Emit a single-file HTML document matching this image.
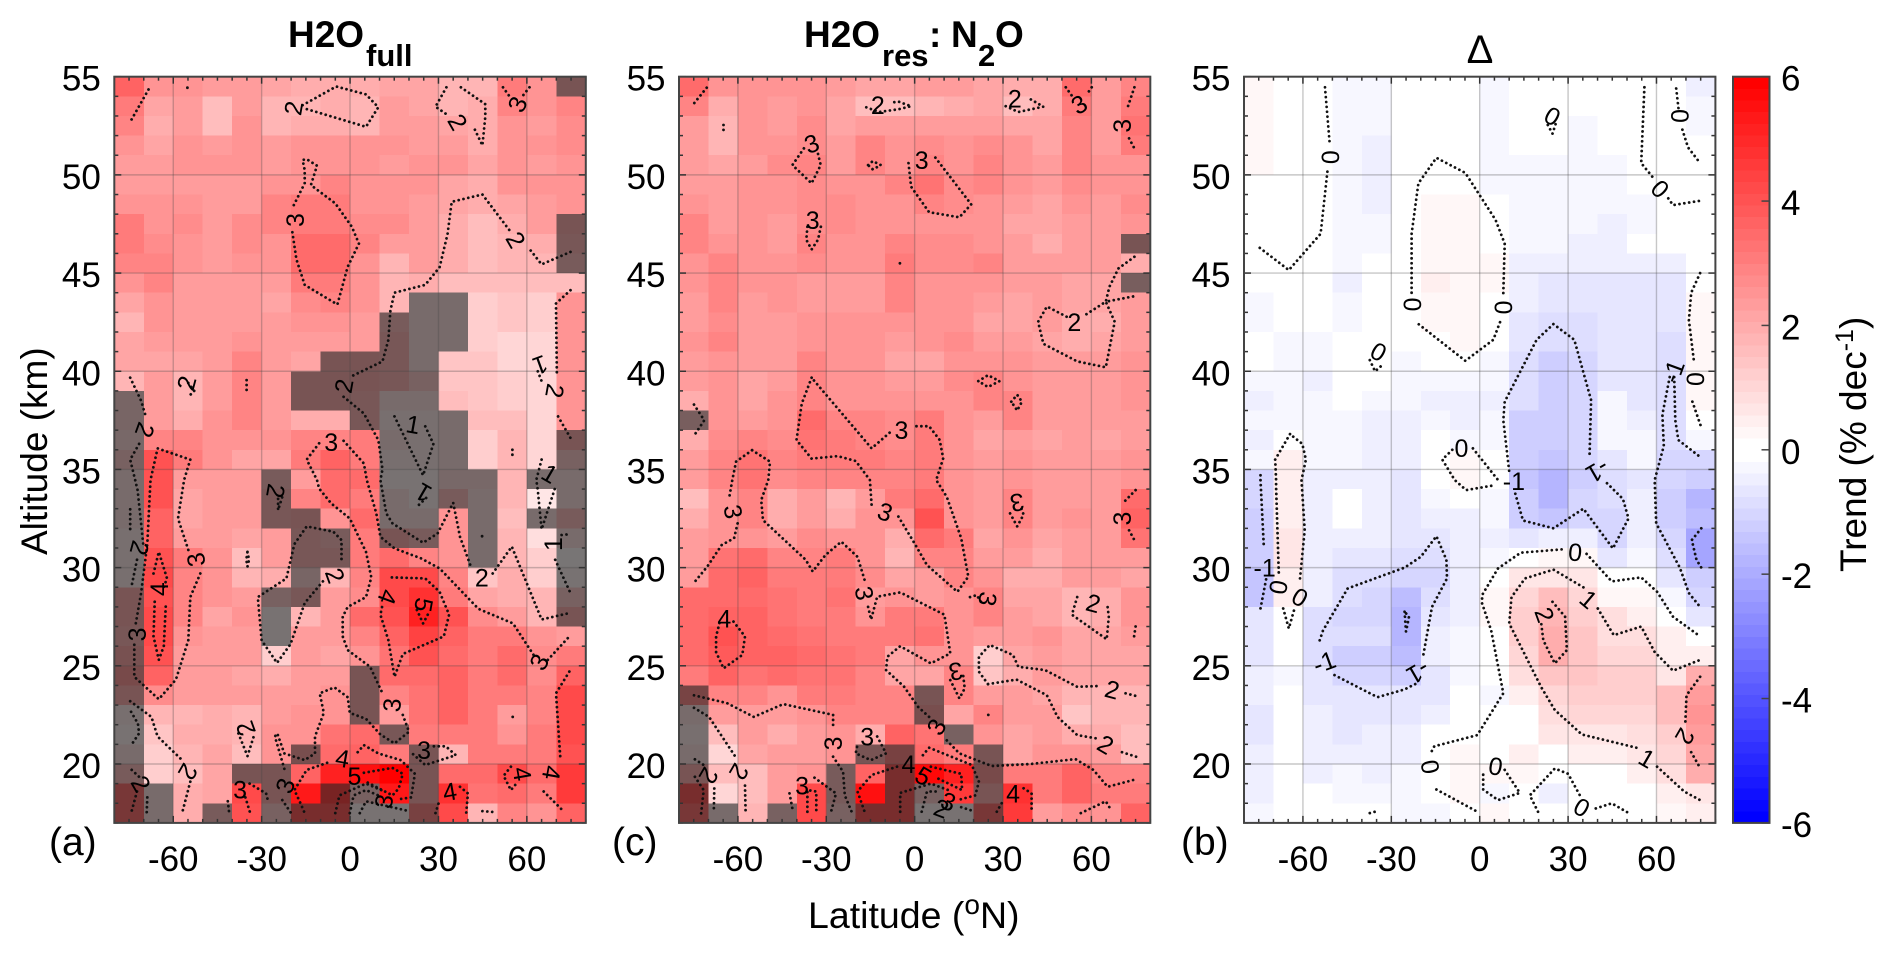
<!DOCTYPE html>
<html lang="en">
<head>
<meta charset="utf-8">
<title>H2O trend latitude-altitude panels</title>
<style>
html,body{margin:0;padding:0;background:#fff;}
svg{display:block;font-family:"Liberation Sans",sans-serif;}
text{fill:#000;}
</style>
</head>
<body>
<svg id="chart" width="1892" height="957" viewBox="0 0 1892 957" xmlns="http://www.w3.org/2000/svg">
<rect x="0" y="0" width="1892" height="957" fill="#fff"/>
<g id="panels"></g>
<g id="colorbar"></g>
<g font-weight="bold">
<text x="288" y="47" font-size="37">H2O</text>
<text x="366" y="66" font-size="31">full</text>
</g>
<g font-weight="bold">
<text x="804" y="47" font-size="37">H2O</text>
<text x="882" y="66" font-size="31">res</text>
<text x="929" y="47" font-size="37">:</text>
<text x="951" y="47" font-size="37">N</text>
<text x="978" y="66" font-size="31">2</text>
<text x="995" y="47" font-size="37">O</text>
</g>
<text x="1480" y="63" font-size="40" text-anchor="middle">Δ</text>
<text x="49" y="855" font-size="39">(a)</text>
<text x="612" y="855" font-size="39">(c)</text>
<text x="1181" y="855" font-size="39">(b)</text>
<text transform="translate(47,555) rotate(-90)" font-size="37">Altitude (km)</text>
<text x="808" y="928" font-size="37.5">Latitude (<tspan font-size="28" dy="-14">o</tspan><tspan dy="14">N)</tspan></text>
<text transform="translate(1866,572) rotate(-90)" font-size="37">Trend (% dec<tspan font-size="25" dy="-13">-1</tspan><tspan dy="13">)</tspan></text>
</svg>
<script>
// Tick labels
const latTicks = [-60, -30, 0, 30, 60];
const altTicks = [20, 25, 30, 35, 40, 45, 50, 55];
const colorbarTicks = [-6, -4, -2, 0, 2, 4, 6];
// Row altitudes run from the 54-55 km row (first) to the 17-18 km row (last); columns are 10 degree bands from -80.
const heatA = [
[4.0,2.9,3.0,2.7,2.6,2.4,2.2,2.2,2.2,2.5,2.5,2.1,2.1,3.4,2.9,3.0],
[3.4,2.4,2.8,1.9,2.7,2.0,2.1,2.2,2.1,2.6,2.5,2.1,2.2,3.3,2.9,3.2],
[3.3,2.3,2.7,1.9,2.9,2.0,2.3,2.2,2.0,2.6,2.7,2.5,2.2,3.0,2.8,3.1],
[2.9,2.4,2.9,2.7,3.0,2.6,2.9,2.9,2.9,2.9,2.8,2.8,2.2,3.0,2.9,3.1],
[2.8,2.6,2.9,2.9,2.9,2.8,3.0,3.0,3.0,2.8,3.0,2.9,2.4,3.0,2.8,3.0],
[2.8,2.6,2.8,2.8,2.8,2.9,3.0,3.2,3.0,3.0,3.0,2.4,2.2,3.0,2.9,3.0],
[3.0,2.9,3.0,2.6,2.8,3.2,3.4,3.4,3.0,3.0,2.8,2.4,2.2,2.5,2.8,3.0],
[3.4,3.0,3.1,2.6,3.1,3.2,3.4,3.4,3.1,3.1,2.7,2.3,1.9,2.3,2.7,3.0],
[3.4,3.1,3.0,2.6,3.1,3.0,3.7,3.7,3.3,2.8,2.8,2.3,1.9,2.0,2.2,2.8],
[3.2,3.3,3.0,2.8,3.0,2.9,3.8,3.8,3.0,2.0,2.7,2.2,1.9,2.0,2.1,2.5],
[3.0,3.3,2.8,2.8,2.7,2.6,3.4,3.5,3.0,2.0,2.3,1.8,1.8,1.8,1.8,1.9],
[2.4,3.0,2.6,2.6,2.6,2.5,3.1,3.2,3.0,2.1,1.5,1.4,1.3,1.6,1.5,3.0],
[2.1,3.0,2.6,2.7,2.7,2.6,2.9,2.9,2.7,2.5,1.5,1.4,1.3,1.6,1.5,2.9],
[2.5,2.8,2.6,2.7,2.9,2.7,2.7,2.7,2.6,2.7,1.5,1.5,1.4,1.1,1.2,2.9],
[2.5,2.5,2.4,2.6,3.2,2.6,2.4,3.0,3.0,2.7,1.5,1.7,1.6,1.1,1.2,3.0],
[2.0,2.6,2.0,2.7,3.3,2.7,3.0,3.0,3.0,2.7,2.0,1.7,1.7,1.3,1.1,3.0],
[1.8,2.6,2.0,2.6,3.3,2.7,3.0,3.0,2.7,1.3,1.5,1.8,1.6,1.5,1.1,3.0],
[1.8,2.7,2.2,2.9,3.2,2.8,2.2,2.2,2.7,1.2,1.2,1.5,1.8,1.8,1.1,3.0],
[1.6,3.3,3.2,2.9,3.0,2.9,3.2,3.3,3.4,1.3,1.1,1.5,1.3,2.0,1.1,3.0],
[2.0,4.2,3.4,3.0,2.5,2.4,3.5,4.0,3.5,1.2,1.1,1.5,1.3,2.1,1.1,2.0],
[1.5,4.2,2.7,2.6,2.6,2.5,2.7,3.7,3.7,1.0,1.0,1.7,1.6,2.0,1.5,1.5],
[1.3,4.3,2.4,2.6,2.6,2.7,3.2,3.7,3.5,1.3,1.0,2.4,1.5,2.0,0.7,1.5],
[1.3,4.0,2.4,2.6,2.6,2.6,3.0,3.0,3.7,1.3,1.3,3.0,1.5,1.9,1.5,2.5],
[1.2,4.0,2.7,2.6,2.4,2.7,2.6,2.5,3.4,3.0,2.5,3.0,1.5,2.0,0.9,1.5],
[1.2,4.2,3.5,2.9,1.9,2.6,2.6,2.6,3.4,3.8,3.3,2.9,1.3,2.0,1.3,0.8],
[1.2,4.5,3.3,2.9,2.0,2.2,1.8,2.1,3.2,4.5,4.4,3.3,1.6,2.2,1.5,1.0],
[3.0,4.3,3.2,3.0,2.7,2.0,2.8,2.6,3.1,4.5,5.0,3.5,2.5,2.3,2.0,2.0],
[3.0,4.5,3.3,2.4,2.9,1.0,2.1,2.6,3.7,4.3,5.2,4.3,3.1,2.7,2.0,3.0],
[2.8,4.5,2.9,2.6,2.8,1.0,2.6,2.7,3.3,4.0,4.6,4.0,3.4,3.4,2.9,2.6],
[3.1,4.3,2.6,2.6,2.6,1.5,2.6,2.4,3.0,3.6,4.3,3.7,3.4,3.7,3.1,3.4],
[3.5,4.0,2.8,2.7,2.5,2.2,2.7,2.7,3.0,3.8,3.8,3.9,3.5,3.7,3.1,4.0],
[3.0,3.1,2.6,2.7,2.6,2.6,2.7,2.9,3.0,3.3,3.6,3.9,3.5,3.4,3.2,4.4],
[1.2,2.1,2.1,2.2,2.0,2.6,3.0,3.0,3.0,2.6,3.6,3.9,3.5,2.8,3.3,4.4],
[1.0,1.7,2.2,2.2,2.0,3.0,3.0,3.6,3.8,2.8,3.4,3.5,3.5,2.9,3.4,4.4],
[1.5,1.3,2.1,2.5,1.9,3.0,3.2,3.7,4.0,3.4,3.0,2.1,3.4,3.4,3.4,4.3],
[2.5,1.3,1.8,2.4,3.0,3.0,4.0,5.2,5.6,6.0,3.0,3.7,3.8,4.4,3.8,4.7],
[4.5,1.3,2.2,2.4,4.5,3.0,5.4,5.5,2.0,5.4,3.0,5.0,3.6,3.7,3.4,4.7],
[4.5,1.3,2.2,2.5,4.2,2.0,5.0,5.0,1.0,1.0,4.0,4.5,2.1,3.2,3.0,4.0]
];
const maskA = [[15],[],[],[],[],[],[],[15],[15],[15],[],[10,11],[9,10,11],[9,10,11],[7,8,9,10],[6,7,8,9,10],[0,6,7,8,9,10],[0,8,9,10,11],[0,9,10,11,15],[0,9,10,11,15],[0,5,9,10,11,12,14,15],[0,5,9,10,11,12,15],[0,5,6,9,10,12,14,15],[0,6,7,9,10,12,15],[0,6,7,12,15],[0,6,15],[0,5,6,15],[0,5,15],[0,5],[0],[0,8],[0,8],[0,8],[0,9],[0,6,10],[0,4,5,10],[0,1,5,7,8,10],[0,1,3,5,6,7,8,9,10]];
const heatC = [
[3.8,2.9,3.0,2.9,2.9,2.6,2.4,2.4,2.6,2.6,2.5,2.2,2.2,3.7,2.8,3.3],
[3.2,2.2,2.9,2.6,2.9,2.4,1.9,1.9,2.0,2.3,2.4,1.9,2.2,3.5,2.8,3.4],
[2.8,2.0,2.9,2.6,3.1,2.5,2.6,2.6,2.7,2.7,2.7,2.5,2.4,3.3,2.8,3.6],
[2.7,2.0,2.9,3.0,3.1,2.6,3.2,3.0,3.1,2.9,3.1,2.9,2.4,3.3,2.8,3.5],
[2.7,2.4,2.8,3.1,3.2,2.8,3.2,3.0,3.3,3.0,3.2,3.0,2.6,3.2,2.9,2.9],
[2.7,2.6,2.9,2.9,3.1,3.0,3.0,3.2,3.6,3.1,3.3,2.9,2.6,3.1,2.9,2.9],
[3.0,2.8,2.9,3.0,3.1,3.1,3.0,3.0,3.2,3.1,2.9,2.6,2.4,2.9,2.7,3.1],
[3.3,2.8,2.9,2.7,3.1,3.1,3.0,3.0,3.0,3.0,3.0,2.5,2.4,2.8,2.8,2.9],
[3.3,3.0,3.0,2.7,3.3,2.9,2.9,3.2,3.1,3.1,3.0,2.7,2.2,2.6,2.7,3.0],
[2.9,3.2,2.9,2.9,3.1,2.9,2.9,3.5,3.1,3.1,3.2,2.8,2.6,2.7,2.6,2.2],
[2.9,3.3,2.9,3.0,2.8,2.7,2.7,3.2,2.9,2.9,3.0,2.8,2.6,2.5,2.5,2.2],
[2.7,3.2,2.6,2.9,2.7,2.6,2.7,3.2,2.9,2.9,2.6,2.5,2.6,2.4,2.4,2.6],
[2.7,3.1,2.6,2.8,2.9,2.9,2.9,2.9,2.9,2.9,2.5,2.5,2.6,2.3,2.3,2.7],
[2.9,3.2,2.8,2.8,3.0,2.9,2.9,2.8,2.9,3.1,2.8,2.7,2.4,2.2,2.4,2.8],
[2.8,3.0,2.8,2.8,3.3,3.0,2.9,2.5,2.5,3.0,2.9,2.9,2.7,2.6,2.6,2.9],
[2.6,2.9,2.4,2.8,3.3,3.0,2.9,2.7,2.8,3.1,3.2,2.9,2.7,2.7,2.6,3.0],
[2.3,2.9,2.5,2.9,3.3,3.0,2.9,2.9,3.0,3.0,3.3,3.2,2.7,2.7,2.7,2.9],
[2.3,3.0,2.6,3.0,3.7,3.2,3.2,3.1,3.4,3.0,2.8,3.2,2.7,2.7,2.6,2.7],
[2.3,3.1,3.2,3.1,3.6,3.5,3.3,3.1,3.4,3.0,2.5,2.8,2.4,2.6,2.5,2.8],
[2.8,3.2,3.6,3.2,3.5,3.4,3.4,3.3,3.4,3.0,2.8,2.9,2.6,2.6,2.7,3.0],
[2.8,3.2,3.6,3.1,3.2,3.2,3.2,3.3,3.4,2.9,2.8,2.9,2.6,2.7,2.7,2.9],
[1.8,3.0,3.2,2.3,2.6,2.0,2.7,3.4,3.8,3.0,2.8,3.3,2.6,2.7,2.6,3.8],
[2.2,3.0,3.2,2.2,2.8,2.3,3.0,2.9,4.2,3.0,2.7,3.3,2.8,2.9,2.8,4.0],
[2.7,3.0,3.0,2.7,3.1,2.9,3.0,2.2,3.8,3.5,2.4,3.0,2.4,2.8,2.6,3.6],
[2.7,3.6,3.7,3.3,3.3,3.4,3.0,2.0,3.3,3.3,2.7,2.7,2.3,2.7,2.7,2.6],
[2.8,3.7,4.0,3.5,3.4,3.4,3.1,2.4,2.7,3.2,3.0,2.2,2.2,2.7,2.6,2.4],
[3.8,3.8,3.8,3.6,3.5,3.6,2.8,3.0,2.7,3.0,3.2,2.5,2.4,2.1,2.2,3.0],
[3.7,4.0,4.0,3.6,3.4,3.4,2.9,3.5,3.5,3.0,3.2,2.6,2.4,2.0,2.3,3.0],
[3.7,4.3,4.0,3.7,3.6,3.5,3.4,3.5,3.6,3.0,2.7,2.7,2.9,2.5,2.4,2.8],
[3.7,4.1,3.9,4.0,3.7,3.6,3.4,2.5,3.0,3.0,1.5,2.4,2.7,2.4,2.4,2.5],
[3.5,3.9,3.6,3.8,3.6,3.6,3.3,2.5,2.4,3.2,1.6,2.2,2.6,2.4,2.4,2.4],
[3.8,3.2,3.2,3.0,3.4,3.4,3.3,3.3,3.0,3.2,2.8,2.6,2.4,2.0,2.1,2.0],
[1.3,2.7,2.8,2.8,3.0,3.3,3.3,3.3,3.3,2.5,3.2,2.7,2.6,1.7,2.0,2.0],
[1.2,1.8,2.6,2.3,2.8,3.0,2.2,3.9,3.6,2.0,3.0,2.5,2.7,2.2,2.3,1.9],
[1.5,1.2,2.5,2.6,2.7,3.0,3.0,4.0,3.8,3.5,3.0,2.4,3.0,3.0,2.7,1.9],
[3.0,1.8,1.8,2.6,3.0,2.5,3.9,5.0,5.8,5.2,3.5,3.5,3.4,4.0,3.3,3.3],
[5.0,1.2,1.9,2.7,4.5,2.5,5.6,5.0,2.0,4.8,3.0,5.0,3.5,3.9,3.5,3.5],
[4.5,1.3,2.0,2.0,4.5,2.0,5.0,5.0,1.0,1.0,4.5,4.7,2.8,3.1,3.0,4.0]
];
const maskC = [[],[],[],[],[],[],[],[],[15],[],[15],[],[],[],[],[],[],[0],[],[],[],[],[],[],[],[],[],[],[],[],[],[0,8],[0,8],[0,9],[0,6,7,10],[0,5,7,10],[0,5,7,8,10],[0,1,3,5,6,7,8,9,10]];
const heatB = [
[0.2,0,0,-0.2,-0.2,0,0,0,-0.2,0,0,0,0,0,0,-0.4],
[0.3,0,0,-0.2,-0.2,0,0,0,-0.2,0,0,0,0,0,0,-0.2],
[0.3,0,0,-0.2,-0.2,0,0,0,-0.2,0,0,-0.2,0,0,0,-0.2],
[0.2,0,0,-0.2,-0.4,0,0,0,-0.2,0,0,-0.2,0,0,0,0],
[0.2,0,0,-0.2,-0.4,0,0,0,-0.2,-0.2,-0.2,-0.2,-0.2,0,0,0],
[0,0,0,-0.2,-0.4,0,0,0,-0.2,-0.2,-0.2,-0.2,-0.2,0,0,0],
[0,0,0,-0.2,-0.4,0,0.2,0.2,0,-0.2,-0.2,-0.2,-0.2,-0.2,0,0],
[0,0,0,-0.2,-0.2,0,0.3,0.2,0,-0.2,-0.2,-0.2,-0.4,-0.2,0,0],
[0,0,0,-0.2,-0.2,0,0.3,0.2,0,-0.2,-0.2,-0.4,-0.4,0,0,0],
[0,0,0,-0.2,0,0,0.3,0.2,0.2,-0.4,-0.4,-0.4,-0.4,-0.4,-0.4,0],
[0,0,0,-0.4,0,0,0.4,0.2,0.2,-0.4,-0.6,-0.6,-0.6,-0.6,-0.6,0],
[-0.2,0,0,-0.2,0,0,0.3,0.2,0,-0.4,-0.6,-0.7,-0.6,-0.6,-0.6,0.2],
[-0.2,0,0,-0.2,0,0,0.2,0.3,0,-0.7,-0.9,-0.9,-0.6,-0.7,-0.7,0.3],
[0,-0.2,-0.2,0,0,0,0,0.2,0,-0.7,-0.9,-0.9,-0.6,-0.7,-0.8,0.2],
[0,-0.2,-0.2,0,0,-0.2,0,0,-0.2,-0.8,-1.2,-1.0,-0.6,-0.7,-0.9,0.2],
[-0.2,-0.2,-0.4,0,0,-0.2,-0.2,-0.2,-0.2,-0.8,-1.3,-1.0,-0.6,-0.7,-0.9,0.3],
[-0.4,-0.2,-0.2,0,-0.2,-0.2,-0.4,-0.4,-0.4,-0.9,-1.2,-1.0,-0.2,-0.6,-0.9,0.3],
[-0.2,-0.2,-0.2,-0.2,-0.4,-0.4,-0.2,-0.4,-0.2,-1.3,-1.2,-1.0,-0.2,-0.4,-0.9,0],
[-0.4,0.1,-0.2,-0.2,-0.4,-0.4,0,-0.2,-0.2,-1.3,-1.3,-1.1,-0.2,-0.2,-0.9,-0.2],
[-0.2,0.4,-0.2,-0.2,-0.4,-0.4,0,0.2,0,-1.3,-1.4,-1.1,-0.6,-0.2,-1.0,-1.1],
[-1.1,0.4,-0.4,-0.4,-0.4,-0.6,0,0.2,0,-1.4,-1.7,-1.2,-0.9,-0.6,-1.1,-1.2],
[-1.1,0.4,-0.4,0,-0.4,-0.6,-0.2,0,-0.2,-1.2,-1.8,-1.1,-0.9,-0.4,-1.2,-1.7],
[-1.2,0.4,-0.4,-0.1,-0.4,-0.6,-0.4,-0.4,-0.2,-1.2,-1.4,-1.1,-1.0,-0.4,-1.2,-1.6],
[-1.2,0.6,-0.4,-0.4,-0.4,-0.6,-0.6,-0.4,-0.4,-0.6,-0.4,-0.4,-1.0,-0.4,-1.1,-2.1],
[-1.2,0.6,-0.4,-0.6,-0.7,-0.8,-0.9,-0.4,-0.2,0,0.2,0.2,-0.6,-0.2,-0.9,-2.1],
[-1.4,0.4,-0.4,-0.9,-0.9,-1.0,-1.0,-0.4,0,0.6,0.7,0.7,0,0,-0.6,-1.2],
[-1.4,0.4,-0.4,-0.9,-1.1,-1.6,-0.9,-0.4,0.2,1.1,1.6,1.1,0.2,0.2,-0.2,-1.1],
[-0.6,0,-0.8,-1.1,-1.1,-1.8,-0.6,-0.4,0.3,1.2,1.8,1.3,0.8,0.5,0,-0.6],
[-0.6,0,-0.8,-0.9,-0.9,-1.7,-0.4,-0.2,0,1.2,1.9,1.4,0.9,0.9,0.5,0],
[-0.6,0,-0.8,-1.2,-1.2,-1.5,-0.4,-0.2,0,1.1,1.9,1.4,1.1,1.0,0.5,0.4],
[-0.4,-0.2,-0.7,-1.1,-1.1,-1.3,-0.6,-0.2,0,0.8,1.4,1.4,1.2,1.2,0.7,1.9],
[-0.4,0,-0.6,-0.7,-0.7,-0.6,-0.6,0,-0.2,0.4,1.1,1.2,1.2,1.3,1.5,2.3],
[-0.7,0,-0.4,-0.6,-0.6,-0.6,-0.4,0,0,0,0.8,1.0,1.1,1.1,1.5,2.5],
[-0.7,0,-0.4,-0.6,-0.4,-0.4,0,0,0,0,0.6,0.7,0.7,0.9,1.3,2.4],
[-0.4,0,-0.4,-0.4,-0.4,-0.4,0,0.2,0,0.4,0,0.4,0.4,0.6,1.0,2.1],
[-0.4,0,-0.4,-0.2,-0.4,-0.2,0,0.3,0.2,0.3,0,0,0,0.4,0.8,2.0],
[-0.4,0,0,-0.2,-0.2,-0.2,0,0.2,-0.2,0,-0.4,0,0,0,0.4,0.7],
[-0.3,0,0,0,0,-0.2,-0.2,0,0.3,0,0,0,0,0,0.3,0.4]
];
const maskB = [];
// Contours: flat lists of latitude, altitude pairs.
const contoursA = [
[-68.4,54.35,-74.6,52.7],[-55.2,54.44,-54.4,54.44],
[-16.1,53.55,-4.7,54.5,5.4,54.1,9.6,53.44,5.4,52.45,-14.7,53.35],
[32.7,54.46,29,53.47,33.1,53.05],[37.6,54.46,45.9,53.6,45.9,52.96,44.9,51.5,41.9,52.45],
[51.9,54.46,54.6,53.9],[60.9,54.46,58.5,54],
[-19.1,48.46,-15.4,49.57,-15.4,50.25,-16.1,50.76,-14.7,50.8,-11.2,50.47,-13.3,49.48,-5,48.55,0.6,47.36,3,46.5,-0.8,45.32,-4.3,43.4,-15.4,44.4,-18.2,45.7,-19.6,47.1],
[74.8,46.08,65,45.44,60.5,46.3],
[54,47.2,44.9,49,34.5,48.63,33.1,47,30.4,45.3,25.5,44.4,15.1,44,13.7,43.1,13,41.6,11,40.5,-0.1,39.7],
[-2.2,38.7,4.7,37.85,9.6,36.5,11,35,10.3,34.46,12.3,32.76,14.4,32.25,24.8,31.27,29.7,31.74,35,33.3,37.3,31.57,40.8,30.13],
[48.4,29.7,54.9,31.07,65,27.36,74.8,27.7],
[74.8,44.13,69.9,43.45,70.2,39.7],[70.6,37.7,74.8,36.6],[63.7,40,65,39.5],
[-74.6,39.67,-70.9,38.5,-69.5,37.8],[-71.6,36.3,-74.6,35.5,-72.1,33.95,-70.9,32.25,-70.2,31.2],
[-72.3,30.4,-74.3,28.94],[-74.6,32.97,-74.6,31.74],
[-54.9,30.9,-58.4,32.5,-56.3,34.46,-54.2,35.5,-65.3,36.07,-67.7,34.46,-68.8,31.2,-70.9,28.7,-72.7,27.16],
[-50.8,29.7,-54.2,28.5,-54.9,26.3,-59.1,24.3,-64.9,23.3,-73.2,24.44,-73.2,26.14],
[-66.7,29.7,-64.9,30.8,-62.1,29.45,-63.5,28.9],[-66.3,28.26,-66.7,26.5,-64.9,25.3,-63.2,26,-62.5,28.2],
[-74.6,23.2,-67.4,22.4,-65.3,21.4,-57,20.2],[-54.2,19.1,-57,17.5],
[-74.3,22.66,-72,22.06,-71.6,21.56,-74.1,21],[-74.1,19.7,-71.6,19.35],[-72.3,18.6,-74.3,17.5],[-68.8,18.3,-69,17.5],
[-37.9,21.56,-34.8,20.4,-32.7,21.4],[-41.5,18.1,-41,17.5],[-35.5,18.3,-33.9,17.5],[-34.1,19,-28.5,18.5,-27.9,18.16],[-23,18.16,-20,17.5],
[-10.5,36.33,-14.7,35.5,-11.2,34.46,-10.5,34.03,-6.4,33.27,-0.1,32.5,5.4,30.8,7.2,29.5,5.4,28.5,-0.8,28,-2.5,27.5,-2.5,26.5,-0.8,25.8,6.8,24.95,11,23.6],
[17.9,22.5,20,21.64,15.1,21.05,10.3,21.5,5.4,22.3,-0.1,22.6,-0.8,23.4,-5.3,23.9,-10.3,23.6,-8.9,22.6,-11.9,21.4,-11.9,20.54,-15.4,20.2,-22.3,20.54,-24.7,21.56,-25.5,21.4,-22,19.6],
[-2.2,36.46,4.7,35.3,5.7,34.46,8.9,32.76,10.3,31.57,15.1,30.98,24.1,30.47,30.4,29.96,43.6,27.9,55.3,27.16,62.3,25.55],
[67.1,25.3,74.8,26.56],
[-9.2,29.3,-15.4,28.2,-20.2,26.1,-24.8,25.15,-30,26.3,-31.3,28.5,-21.6,29.45,-18.9,31.2,-14.7,32.1,-5.7,31.83,-2.9,31.4,-2.9,30.3],
[-24.4,33.5,-24.4,32.93,-23,33.6],[-34.8,30.8,-34.3,30.4,-34.8,30.05,-35.2,30.4,-34.8,30.8],
[14.2,29.5,25.5,29.45,30.4,28.77,33.6,27.6,31.8,26.5,17.9,25.6,15.1,24.44,13,26.3,10.3,27.6,11,28.1],
[22.7,27.84,24.8,27.16,26.9,27.75],
[-7.8,20.06,-14.7,19.7,-18.9,18.67,-16.8,18,-15.4,17.5],
[2.6,20.6,4.7,20.96,9.6,20.54,17.2,20.2,22,19.5,20.7,18.3,16.5,18.2],
[4.7,19.55,14.4,19.8,17.9,19.5,16.5,18.75,14.4,18.4,5.4,19.1],
[-5,17.5,-3.6,18.4,5.4,19,11.7,18.6],[-0.1,17.5,1.2,18.4,5.4,18.67,9.6,18.4],[3.3,17.5,5.4,18.1,20,17.6],
[21.4,20.5,25.5,19.95,35.9,20.45,32.5,20.9,28.3,20.9],
[29,17.5,30.4,18.16],[37.3,18.84,40,18.5,39.4,17.5],[44.9,17.6,49,17.55],
[54.6,19.86,52.1,19.4,54.6,18.67,57,19.1],[65.7,18.6,72.4,17.6],[71.3,20.4,69.9,23.6,74.8,24.8],
[65,35.5,63.2,34.46,63.7,33.95,65,31.95,69.9,34.2],[71.8,31.66,74.6,31.7],[69.6,30.4,74.8,28.7],
[15.1,37.7,24.8,34.7,28.3,36.3,25.5,37.2],[23.4,33.2,26.2,33.6],[55.1,36,55.1,35.5],[-35.1,39.55,-35.1,38.8],
[-54.9,39.4,-52.9,39,-54.9,38.7],[55.2,22.4,55.3,22.4],[44.8,31.6,44.8,31.4]
];
const labelsA = [
[-19.3,53.4,'2',-80],[36.6,52.7,'2',60],[56.7,53.6,'3',-65],[-18.6,47.7,'3',-90],[56.3,46.7,'2',60],[-2.2,39.25,'2',-80],[-55.6,39.4,'2',-75],[64.6,40.3,'1',160],[69.6,39,'2',100],[-69.5,37,'2',110],[21.4,37.3,'1',10],[-6.4,36.4,'3',0],
[-25.1,33.9,'2',100],[24.8,33.8,'1',-150],[-71.3,31,'2',105],[-52.4,30.4,'3',-100],[-64.9,28.9,'4',-90],[-72.3,26.6,'3',-90],[12.8,28.5,'4',110],[25.1,28.1,'5',100],[-5,29.6,'2',70],[44.7,29.5,'2',0],[68.8,31.2,'1',-90],[67.8,34.8,'1',30],[14.1,23,'3',-85],[64.1,25.2,'3',-60],[-35.5,21.8,'2',-110],[25.1,20.7,'3',0],[-2.5,20.3,'4',10],[1.5,19.4,'5',0],[-54.9,19.6,'2',120],[-70.9,19,'2',60],[-37.3,18.7,'3',0],[-22.1,18.9,'3',-70],[11.4,18.1,'3',-80],[33.8,18.6,'4',-10],[58.5,19.5,'4',80],[68.5,19.55,'4',100]
];
const contoursC = [
[-70.6,54.44,-74.9,53.64],[-64.9,52.54,-64.9,52.2],
[-16.4,53.44,-12.1,53.2,-5.5,53.34,-1.2,53.5,-5.5,53.73,-7.9,53.68],
[30.9,53.5,35.2,53.2,43.7,53.47,38.2,53.95],[51.3,54.46,54,53.9],[60.1,54.46,58.3,54.07],
[74.6,54.46,72,53.3],[72.8,51.86,74.6,51.35],
[-37.6,51.35,-41.5,50.5,-35,49.57,-31.9,50.5,-33.1,51.26],
[-15.8,50.5,-14.2,50.7,-11.5,50.5,-14.2,50.28,-15.8,50.5],
[-2.1,50.6,-1.2,49.4,4.9,48.1,15.2,47.84,19.2,48.5,6.4,51],
[-36.4,47.36,-36.8,46.7,-35,46.2,-32.8,46.7,-31.6,47.53],[-5,45.5,-4.7,45.5],
[74.6,45.83,69.2,45.24,66.1,44.3,64.9,43.54,57,42.78],
[51.6,42.78,44.9,43.3,41.9,42.52,43.7,41.4,55.2,40.5,64.9,40.2,67.9,42.52,64.9,43.54,74.6,43.82],
[21.6,39.5,24.9,39.8,28.8,39.5,24.9,39.2,21.6,39.5],[32.8,38.45,34.8,38.8,36.4,38.45,34.8,38,32.8,38.45],
[-74.9,38.3,-71.4,37.5,-74.4,36.83],
[-35,39.67,-38.3,38.36,-40.1,36.5,-35,35.55,-26.1,35.68,-20,35.43,-15.2,34.46,-14.6,33.2],
[-5.5,32.6,0,31.23,4.2,30.13,14.5,28.77,18.2,29.54,15.8,31.5,10.9,33.6,7.3,34.46,9.7,35.56,8.5,36.5,4.9,37.2,0,37.2],
[-8.5,36.87,-14.6,36.07,-35,39.67],
[-55.2,35.98,-60.6,35.4,-61.9,34.46,-63.1,33.44],
[-60.1,32.25,-61.3,31.5,-65.5,31.15,-70.4,30.05,-74.9,29.23],
[-55.2,35.98,-49.1,35.4,-49.7,34.46,-52.1,33.44,-51.5,32.42,-37,30.4,-34.6,29.8,-30.3,30.64,-24.9,31.32,-19.4,30.55,-17,29.37],
[-15.8,28,-14.8,27.36,-12.7,28.52,-4.9,28.74,10.1,27.6,12.1,25.63,5.5,25.12,-4.9,26,-9.3,25.46,-9.7,24.78,-3.6,23.94,1.2,22.9,4.9,22.4],
[18.8,28.5,21.1,28.6,23.1,28.1],
[-61.5,27.25,-57.6,26.5,-58.5,25.55,-64.9,24.87,-67.4,25.7,-67.4,26.5,-66.2,27.2],
[55.2,28.5,53.4,27.6,65.2,26.35,65.9,27.5,65.5,28],[75,27,74.3,26.3],
[75,33.95,71.2,33.36],[72.8,31.9,74.6,31.4],[32.4,32.76,34.8,32.1,37,32.7,36,33.1],
[12.1,24.27,15.2,23.34,17,23.85,16.4,24.6],
[24.9,24.07,21.8,24.7,21.8,25.46,25.5,26.06,33.4,25.55,35.2,24.95,44.3,24.78,55.2,23.93,62.5,23.97],[71.6,23.6,75.2,23.46],
[24.9,24.07,34.6,24.3,44.9,23.5,48.5,22.4,55.2,21.47,61.9,21.3],[70.4,20.6,75.2,20.37],
[10.9,21.2,15.2,20.54,26.1,19.9,39.4,20,54.6,20.25,60.7,19.7,65.5,18.84,74.6,19.2],
[56.4,17.5,64.9,18.1,66.7,17.65],
[-74.9,23.5,-63.7,23.1,-54.6,22.4,-44.6,23.05,-27.7,22.5,-27.7,21.86],
[-74.9,22.86,-69.8,22.4,-60.7,20.33],[-57.6,18.9,-57.4,17.57],[-74.6,20.24,-71.6,19.95],
[-74.6,19.35,-71.6,18.67,-72.5,17.48],[-68,18.75,-68.2,17.57],
[-27.7,20.37,-24.3,19.6,-23.7,18.4,-21.2,17.5],[-34,19.3,-26.7,18.5,-28.5,17.5],[-42.5,18.5,-41.3,17.57],
[-36.4,17.57,-36.4,18.67,-33.4,18.6,-33.4,17.57],
[-12.7,21.4,-9.7,20.54,-14.9,20.2,-20,20.54,-19.4,21],
[-6,19.86,-14.6,19.44,-19.4,18.6,-17,17.57],
[2.8,20.45,4.9,20.83,19.4,19.95,21.8,19.1,20.6,18.4,14.6,18.16],
[5.5,19.86,15.8,19.5,16.1,18.67,6.7,19.35],
[-4.9,17.57,-4.9,18.53,5.5,19,12.7,18.6],[2.4,17.57,4.2,18.6,8.5,18.6],[15.8,17.8,20,17.6],
[27.9,17.57,30.3,18.2],[37,18.76,39.7,18.5,39.7,17.57],[25,22.5,25.4,22.5]
];
const labelsC = [
[-12.5,53.56,'2',0],[34,53.9,'2',0],[55.8,53.6,'3',-30],[70.4,52.5,'3',-90],[-35,51.6,'3',-20],[2.4,50.75,'3',0],[-34.6,47.7,'3',0],[54.2,42.5,'2',0],[-4.5,37,'3',0],
[-61.5,32.85,'3',80],[-10,32.85,'3',20],[34.8,33.3,'3',170],[70.4,32.5,'3',-90],[-17,28.7,'3',80],[24.9,28.4,'3',100],[-64.6,27.4,'4',0],[60.7,28.2,'2',15],[14,24.7,'3',170],[67.1,23.8,'2',15],[7.3,21.9,'3',-60],[-16.1,21.4,'3',0],[64.9,21,'2',30],[-27.7,21.05,'3',-90],[-2.1,20,'4',0],[3,19.4,'5',30],[-59.5,19.6,'2',120],[-69.8,19.4,'2',120],[-38.2,18.9,'3',0],[9.1,17.75,'2',20],[11.5,18.1,'3',20],[33.4,18.5,'4',0]
];
const contoursB = [
[-52.5,54.46,-50.9,51.6],[-51.7,50.16,-54,47,-64.8,45.15,-74.8,46.3],
[23.1,52.54,24.7,52.1,25.8,52.6],
[55.9,54.46,54.8,50.6,58.6,49.9],[64,48.8,65.6,48.46,74.8,48.68],
[66.7,54.4,67.6,53.2],[68.8,52.3,70.7,51.4,74.8,50.6],
[-23.1,44,-23.1,47,-20.8,49.57,-14.7,50.87,-4.9,50.1,5.4,47.7,8.5,46.5,8,43.96],
[6.9,42.5,4.6,41.6,-4.9,40.53,-21.6,42.5],
[74.8,45,71.8,44,71,42.6,72.8,40.4],[72.2,38.45,75.2,37.14],
[-37.3,40.57,-35.5,40,-32.4,40.4],
[37.3,35.8,37.8,38.53,32.1,41.6,25,42.4,19.3,41.6,8.5,38.45,8,37.5,10,34.9],
[43.2,34.3,48.6,33.5,50.5,32.5,45.2,30.98,35.2,33,25,32,14.7,32.4,12,33.8],
[64.5,39.7,62,37.8,62.5,36.2,59.4,34.46,59.9,32.25,67.9,30,71,28.7,74.8,28],
[66,39.7,66.4,37.5,67.4,36.5,74.8,35.64],
[75.2,32,72,31.4,73.6,30.4,75.2,30],
[-74.4,34.7,-74.4,34.46,-73.3,31.2],[-72.5,29.4,-74.4,27.92],
[-64.4,36.8,-69.4,35.5,-69.1,34.46,-69.1,34.1,-68.2,29.7],
[-66.7,27.92,-64.8,26.9,-63,27.84],[-61,29.45,-59.4,31.9,-60.5,34.46,-59,35.5,-60.2,36.3,-64.4,36.8],
[-54.3,26.3,-53.2,26.8,-44.8,28.94,-25.5,30,-20,30.55,-14.7,31.6,-11.3,30.4,-11.1,29.45,-16.2,28,-19.3,25.4],
[-21.9,24.07,-25.5,23.8,-34.7,23.4,-50.2,24.6],
[-25.5,27.75,-25,26.74,-24,27.5,-25.5,27.75],
[27.8,30.93,13.9,30.76,6.2,29.96,0.8,28.6,0.8,28.18,3.9,26.8,8,23.6,-0.8,21.47,-15.4,20.9,-17,20.45],
[-14.7,18.7,-0.8,17.57],
[36.3,30.7,44.8,29.3,54.8,29.5,60.2,28.77,65.6,27.5,74.8,26.5],
[35.2,29,25,29.9,15.4,29.45,10.8,28.5,10,27.16,20.8,23.93,25.5,22.75,34.7,21.5,54,20.8],
[60.2,19.86,69.4,18.6,74.8,18.16],
[40.1,27.92,45.5,26.56,54.8,27,59.4,25.7,65.6,24.75,74.8,25.3],
[24.7,28.26,29,27.5,29.6,25.8,25.5,25.12,21.6,26.3,20.8,27.25],
[74.8,24.44,70.2,23.5,69.8,22.06],[71.8,20.6,74.8,19.8],
[8.5,19.7,13.6,18.53,6.2,18.16,1.2,18.7,1.2,19.5],
[19.8,17.57,17,18.4,25.5,19.77,30,19.5,34,18.4],[39.4,17.74,44.8,18,50.6,17.5],
[-37.3,17.5,-34.7,17.6],
[-9.3,36,-12.7,35.5,-8.5,34.46,-4.6,33.95,5.4,34.2],[-2.3,36.07,6.2,34.46]
];
const labelsB = [
[-50.6,50.9,'0',90],[24.7,53,'0',30],[67.9,53,'0',90],[61.3,49.3,'0',45],[-22.8,43.4,'0',90],[8,43.25,'0',90],[-6.2,36.1,'0',0],[73.3,39.6,'0',90],[-34.3,41,'0',30],[65.6,40,'-1',-70],[40.1,34.9,'-1',150],
[11.6,34.4,'-1',0],[32.4,30.8,'0',5],[-73,30,'-1',0],[-68.2,29,'0',100],[-61,28.5,'0',30],[37,28.4,'1',40],[22.1,27.6,'2',70],[-52.8,25.2,'-1',-20],[-20.8,24.65,'-1',150],[69.8,21.4,'2',120],[56.8,20.3,'1',30],[-16.7,19.86,'0',80],[5.4,19.9,'0',10],[34.7,17.8,'0',30]
];

const SVGNS = 'http://www.w3.org/2000/svg';
const TOP = 76.7, BOTTOM = 822.9, ALT_MAX = 55, ALT_MIN = 17, LAT_MIN = -80, LAT_MAX = 80;
const LEVELS = 31, STEP = 6 / 32;

function mk(tag, attrs, parent) {
  const n = document.createElementNS(SVGNS, tag);
  for (const k in attrs) n.setAttribute(k, attrs[k]);
  parent.appendChild(n);
  return n;
}
function yOf(alt) { return TOP + (ALT_MAX - alt) * (BOTTOM - TOP) / (ALT_MAX - ALT_MIN); }
function levelOf(v) { return Math.min(LEVELS, Math.floor(Math.abs(v) / STEP)); }
function rgbOf(v) {
  const c = Math.round(255 * (1 - levelOf(v) / LEVELS));
  return v >= 0 ? [255, c, c] : [c, c, 255];
}
function cssOf(v) { const c = rgbOf(v); return 'rgb(' + c[0] + ',' + c[1] + ',' + c[2] + ')'; }
function maskedCss(v) {
  const c = rgbOf(v);
  const g = Math.round(25 + 0.4 * c[1]);
  return 'rgb(120,' + g + ',' + g + ')';
}
// Readings in the two trend panels were taken by eye and run slightly dark; this maps them onto the colour bar.
function calibrated(v) { return v <= 3 ? v * 0.87 : 2.61 + (v - 3) * 1.13; }
function asRead(v) { return v; }

function drawPanel(id, left, right, heat, mask, contours, labels, tone) {
  const root = document.getElementById('panels');
  const xOf = lat => left + (lat - LAT_MIN) * (right - left) / (LAT_MAX - LAT_MIN);
  const g = mk('g', {}, root);
  
  

  const cells = mk('g', { 'shape-rendering': 'crispEdges' }, g);
  
  
  heat.forEach((row, r) => {
    row.forEach((v, c) => {
      const masked = mask[r] && mask[r].indexOf(c) >= 0;
      const x0 = xOf(LAT_MIN + c * 10), x1 = xOf(LAT_MIN + (c + 1) * 10);
      const y0 = yOf(ALT_MAX - r), y1 = yOf(ALT_MAX - r - 1);
      const shade = tone(v);
      const cell = mk('rect', { x: x0, y: y0, width: x1 - x0 + 0.5, height: y1 - y0 + 0.5, fill: masked ? maskedCss(shade) : cssOf(shade) }, cells);
      
      
    });
  });

  latTicks.forEach(lat => {
    const line = mk('line', { x1: xOf(lat), x2: xOf(lat), y1: TOP, y2: BOTTOM, stroke: 'rgba(70,70,70,0.3)', 'stroke-width': 1.4 }, g);
    
    
  });
  altTicks.forEach(alt => {
    const line = mk('line', { x1: left, x2: right, y1: yOf(alt), y2: yOf(alt), stroke: 'rgba(70,70,70,0.3)', 'stroke-width': 1.4 }, g);
    
    
  });

  contours.forEach(pts => {
    let d = '';
    for (let i = 0; i < pts.length; i += 2) {
      d += (i ? 'L' : 'M') + xOf(pts[i]).toFixed(1) + ' ' + yOf(pts[i + 1]).toFixed(1);
    }
    const p = mk('path', { d: d, fill: 'none', stroke: '#111', 'stroke-width': 2.8, 'stroke-linecap': 'round', 'stroke-dasharray': '0.01 4.9' }, g);
    
    
  });
  labels.forEach(l => {
    const px = xOf(l[0]), py = yOf(l[1]);
    const t = mk('text', { x: px, y: py + 9, 'font-size': 25, 'text-anchor': 'middle', fill: '#222', transform: 'rotate(' + l[3] + ' ' + px + ' ' + py + ')' }, g);
    t.textContent = l[2];
    
    
  });

  for (let lat = LAT_MIN; lat <= LAT_MAX; lat += 5) {
    const major = lat % 30 === 0;
    const len = major ? 7 : 4;
    [[BOTTOM, BOTTOM - len], [TOP, TOP + len]].forEach(e => {
      const tk = mk('line', { x1: xOf(lat), x2: xOf(lat), y1: e[0], y2: e[1], stroke: '#333', 'stroke-width': 1.5 }, g);
      
      
    });
  }
  for (let alt = ALT_MIN; alt <= ALT_MAX; alt += 1) {
    const len = alt % 5 === 0 ? 7 : 4;
    [[left, left + len], [right, right - len]].forEach(e => {
      const tk = mk('line', { x1: e[0], x2: e[1], y1: yOf(alt), y2: yOf(alt), stroke: '#333', 'stroke-width': 1.5 }, g);
      
      
    });
  }
  const frame = mk('rect', { x: left, y: TOP, width: right - left, height: BOTTOM - TOP, fill: 'none', stroke: '#444', 'stroke-width': 2 }, g);
  
  

  latTicks.forEach(lat => {
    const t = mk('text', { x: xOf(lat), y: 871, 'font-size': 35, 'text-anchor': 'middle' }, g);
    t.textContent = String(lat);
    
    
  });
  altTicks.forEach(alt => {
    const t = mk('text', { x: left - 13.5, y: yOf(alt) + 14, 'font-size': 35, 'text-anchor': 'end' }, g);
    t.textContent = String(alt);
    
    
  });
}

function drawColorbar() {
  const g = document.getElementById('colorbar');
  const L = 1733, R = 1769.5;
  const yV = v => TOP + (6 - v) * (BOTTOM - TOP) / 12;
  const bands = mk('g', { 'shape-rendering': 'crispEdges' }, g);
  
  
  for (let i = 0; i < 64; i++) {
    const lo = -6 + i * STEP, hi = lo + STEP;
    const band = mk('rect', { x: L, y: yV(hi), width: R - L, height: yV(lo) - yV(hi) + 0.5, fill: cssOf((lo + hi) / 2) }, bands);
    
    
  }
  const frame = mk('rect', { x: L, y: TOP, width: R - L, height: BOTTOM - TOP, fill: 'none', stroke: '#444', 'stroke-width': 2 }, g);
  
  
  colorbarTicks.forEach(v => {
    const tk = mk('line', { x1: R - 8, x2: R, y1: yV(v), y2: yV(v), stroke: '#444', 'stroke-width': 1.5 }, g);
    
    
    const t = mk('text', { x: 1781, y: yV(v) + 14, 'font-size': 35 }, g);
    t.textContent = String(v);
    
    
  });
}

drawPanel('a', 114.3, 585.8, heatA, maskA, contoursA, labelsA, calibrated);
drawPanel('c', 679, 1150.3, heatC, maskC, contoursC, labelsC, calibrated);
drawPanel('b', 1244, 1715.4, heatB, maskB, contoursB, labelsB, asRead);
drawColorbar();
</script>
</body>
</html>
